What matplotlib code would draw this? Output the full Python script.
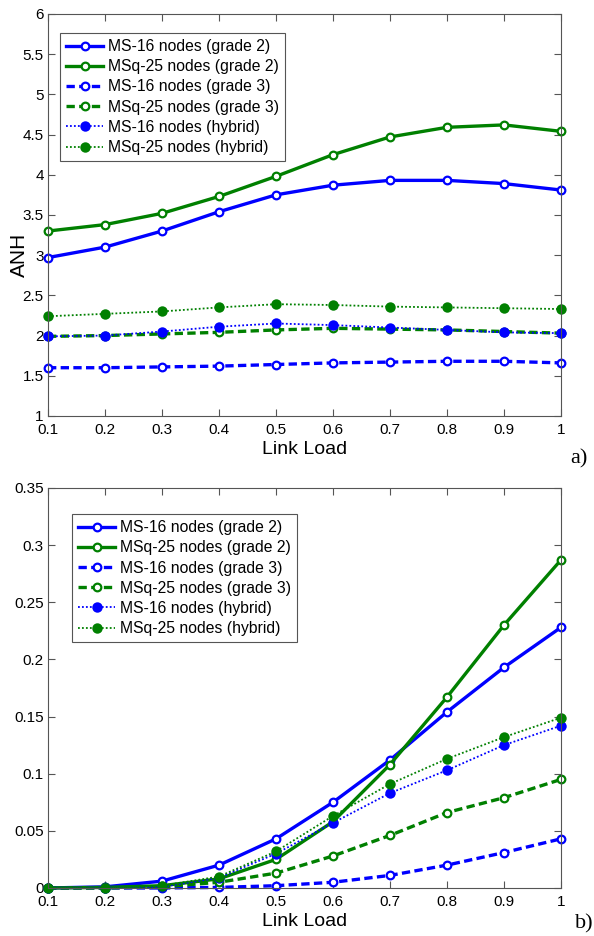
import numpy as np
import matplotlib
matplotlib.use("Agg")
import matplotlib.pyplot as plt

plt.rcParams['font.family'] = ['Liberation Sans', 'DejaVu Sans']

link_load = [0.1, 0.2, 0.3, 0.4, 0.5, 0.6, 0.7, 0.8, 0.9, 1.0]

labels = ["MS-16 nodes (grade 2)", "MSq-25 nodes (grade 2)",
          "MS-16 nodes (grade 3)", "MSq-25 nodes (grade 3)",
          "MS-16 nodes (hybrid)", "MSq-25 nodes (hybrid)"]

# panel a) ANH
anh_ms16_g2 = [2.97, 3.10, 3.30, 3.54, 3.75, 3.87, 3.93, 3.93, 3.89, 3.81]
anh_msq25_g2 = [3.30, 3.38, 3.52, 3.73, 3.98, 4.25, 4.47, 4.59, 4.62, 4.54]
anh_ms16_g3 = [1.60, 1.60, 1.61, 1.62, 1.64, 1.66, 1.67, 1.68, 1.68, 1.66]
anh_msq25_g3 = [1.99, 2.00, 2.02, 2.04, 2.07, 2.09, 2.08, 2.07, 2.05, 2.03]
anh_ms16_hyb = [1.99, 2.00, 2.05, 2.11, 2.15, 2.13, 2.10, 2.07, 2.04, 2.03]
anh_msq25_hyb = [2.24, 2.27, 2.30, 2.35, 2.39, 2.38, 2.36, 2.35, 2.34, 2.33]

# panel b)
b_ms16_g2 = [0.0, 0.001, 0.006, 0.020, 0.043, 0.075, 0.112, 0.154, 0.193, 0.228]
b_msq25_g2 = [0.0, 0.0005, 0.002, 0.008, 0.025, 0.058, 0.108, 0.167, 0.230, 0.287]
b_ms16_g3 = [0.0, 0.0, 0.0, 0.0005, 0.002, 0.005, 0.011, 0.020, 0.031, 0.043]
b_msq25_g3 = [0.0, 0.0, 0.001, 0.005, 0.013, 0.028, 0.046, 0.066, 0.079, 0.095]
b_ms16_hyb = [0.0, 0.0, 0.001, 0.009, 0.030, 0.057, 0.083, 0.103, 0.125, 0.142]
b_msq25_hyb = [0.0, 0.0, 0.002, 0.010, 0.032, 0.063, 0.091, 0.113, 0.132, 0.149]

blue = "#0000ff"
green = "#008000"
styles = [
    dict(color=blue, ls="-", lw=2.4, marker="o", ms=5.5, mfc="white", mew=1.6),
    dict(color=green, ls="-", lw=2.4, marker="o", ms=5.5, mfc="white", mew=1.6),
    dict(color=blue, ls="--", lw=2.4, marker="o", ms=5.5, mfc="white", mew=1.6, dashes=(2.5, 1.3)),
    dict(color=green, ls="--", lw=2.4, marker="o", ms=5.5, mfc="white", mew=1.6, dashes=(2.5, 1.3)),
    dict(color=blue, ls=":", lw=1.3, marker="o", ms=7.5, mfc=blue, mew=0, dashes=(1, 1.2)),
    dict(color=green, ls=":", lw=1.3, marker="o", ms=7.5, mfc=green, mew=0, dashes=(1, 1.2)),
]

fig = plt.figure(figsize=(5.94, 9.36), dpi=100)
ax1 = fig.add_axes([0.0808, 0.5556, 0.8636, 0.4295])
ax2 = fig.add_axes([0.0808, 0.0513, 0.8636, 0.4274])

def style_axes(ax):
    for s in ax.spines.values():
        s.set_color("#555555")
        s.set_linewidth(0.8)
    ax.tick_params(direction="in", top=True, right=True, length=5,
                   color="#555555", labelsize=11)
    ax.tick_params(axis="x", pad=5)
    ax.tick_params(axis="y", pad=3)
    ax.set_xlim(0.1, 1.0)
    ax.set_xticks(link_load)
    ax.set_xticklabels(["0.1", "0.2", "0.3", "0.4", "0.5", "0.6", "0.7", "0.8", "0.9", "1"])
    ax.set_xlabel("Link Load", fontsize=14, labelpad=3)

def add_legend(ax, anchor):
    leg = ax.legend(loc="upper left", bbox_to_anchor=anchor, fontsize=11.3,
                    fancybox=False, edgecolor="#555555", framealpha=1,
                    handlelength=2.35, handletextpad=0.3, labelspacing=0.33,
                    borderpad=0.4, borderaxespad=0)
    leg.get_frame().set_linewidth(0.8)

series_a = [anh_ms16_g2, anh_msq25_g2, anh_ms16_g3, anh_msq25_g3, anh_ms16_hyb, anh_msq25_hyb]
for ys, st, lab in zip(series_a, styles, labels):
    ax1.plot(link_load, ys, label=lab, clip_on=False, **st)
style_axes(ax1)
ax1.set_ylim(1, 6)
ax1.set_yticks([1, 1.5, 2, 2.5, 3, 3.5, 4, 4.5, 5, 5.5, 6])
ax1.set_yticklabels(["1", "1.5", "2", "2.5", "3", "3.5", "4", "4.5", "5", "5.5", "6"])
ax1.set_ylabel("ANH", fontsize=15)
ax1.yaxis.set_label_coords(-0.038, 0.40)
add_legend(ax1, (0.0234, 0.953))

series_b = [b_ms16_g2, b_msq25_g2, b_ms16_g3, b_msq25_g3, b_ms16_hyb, b_msq25_hyb]
for ys, st, lab in zip(series_b, styles, labels):
    ax2.plot(link_load, ys, label=lab, clip_on=False, **st)
style_axes(ax2)
ax2.set_ylim(0, 0.35)
ax2.set_yticks([0, 0.05, 0.1, 0.15, 0.2, 0.25, 0.3, 0.35])
ax2.set_yticklabels(["0", "0.05", "0.1", "0.15", "0.2", "0.25", "0.3", "0.35"])
add_legend(ax2, (0.0468, 0.935))

fig.text(0.975, 0.5096, "a)", fontsize=16, family="Liberation Serif", ha="center", va="center")
fig.text(0.983, 0.0128, "b)", fontsize=16, family="Liberation Serif", ha="center", va="center")

fig.savefig("out.png", dpi=100)
